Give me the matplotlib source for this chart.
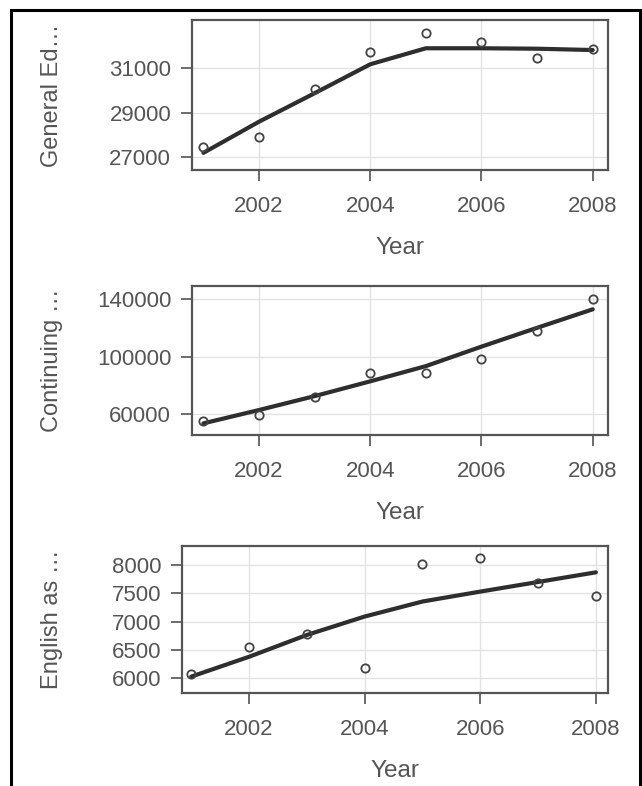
import matplotlib
matplotlib.use("Agg")
import matplotlib.pyplot as plt
from matplotlib.patches import Rectangle

plt.rcParams['font.family'] = ['Liberation Sans', 'DejaVu Sans']

years = [2001, 2002, 2003, 2004, 2005, 2006, 2007, 2008]

general_ed_obs = [27470, 27900, 30050, 31750, 32570, 32200, 31480, 31850]
general_ed_fit = [27200, 28600, 29880, 31180, 31900, 31900, 31880, 31820]

continuing_obs = [55000, 59300, 72000, 88700, 88700, 98500, 117700, 140000]
continuing_fit = [53500, 62800, 72500, 82800, 93400, 107000, 120100, 133000]

esl_obs = [6070, 6560, 6780, 6180, 8010, 8120, 7690, 7460]
esl_fit = [6030, 6380, 6765, 7090, 7355, 7530, 7700, 7870]

panel_labels = ["General Ed\u2026", "Continuing \u2026", "English as \u2026"]
yticks_list = [[27000, 29000, 31000], [60000, 100000, 140000], [6000, 6500, 7000, 7500, 8000]]
xticks = [2002, 2004, 2006, 2008]

W, H = 642, 786
fig = plt.figure(figsize=(W / 100, H / 100), dpi=100)

# pixel boxes: left, top, right, bottom
boxes = [(192, 20, 608, 170), (192, 285.7, 608, 435), (182, 545.7, 608, 692.7)]
ylims = [(26430, 33170), (45390, 149460), (5746, 8340)]
xlims = [(2000.795, 2008.275), (2000.795, 2008.275), (2000.84, 2008.21)]

series = [(general_ed_obs, general_ed_fit), (continuing_obs, continuing_fit), (esl_obs, esl_fit)]

text_color = "#555555"
for i, ((l, t, r, b), (obs, fit)) in enumerate(zip(boxes, series)):
    ax = fig.add_axes([l / W, 1 - b / H, (r - l) / W, (b - t) / H])
    ax.plot(years, fit, color="#2e2e2e", lw=3.0, solid_capstyle="round", zorder=3)
    ax.plot(years, obs, linestyle="none", marker="o", markersize=6, markerfacecolor="none",
            markeredgecolor="#444444", markeredgewidth=1.3, zorder=4)
    ax.set_xlim(*xlims[i])
    ax.set_ylim(*ylims[i])
    ax.set_xticks(xticks)
    ax.set_yticks(yticks_list[i])
    ax.grid(True, color="#e3e3e3", lw=1.0, zorder=0)
    ax.set_axisbelow(True)
    for s in ax.spines.values():
        s.set_color("#555555")
        s.set_linewidth(1.6)
    ax.tick_params(axis="both", direction="out", length=8, width=1.1, color="#444444",
                   labelsize=16, labelcolor=text_color)
    ax.tick_params(axis="x", pad=11)
    ax.tick_params(axis="y", pad=7)
    ax.set_xlabel("Year", fontsize=17.5, color=text_color, labelpad=14)
    ax.set_ylabel(panel_labels[i], fontsize=17, color=text_color)
    ax.yaxis.set_label_coords((63 - l) / (r - l), 0.5)

# outer frame
frame = Rectangle((11 / W, -0.1), (639.5 - 11) / W, 1.1 - 10 / H, transform=fig.transFigure,
                  fill=False, edgecolor="black", lw=2.2, clip_on=False)
fig.patches.append(frame)

fig.savefig("out.png", dpi=100, facecolor="white")
